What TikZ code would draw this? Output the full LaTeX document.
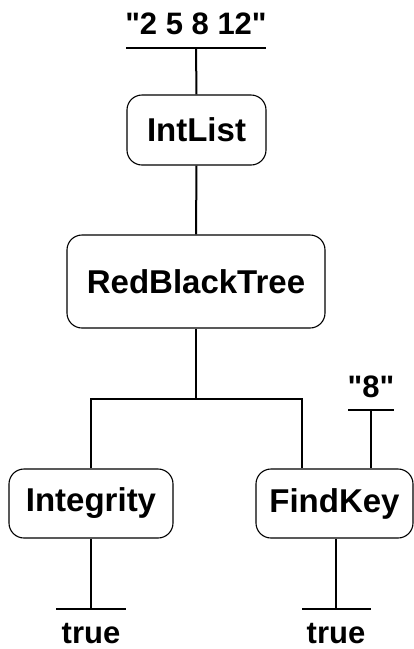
\documentclass[tikz,border=0pt]{standalone}
\usepackage{fontspec}
\setmainfont{Liberation Sans}
\newfontfamily\valfont{Liberation Sans}
\tikzset{
  compnode/.style = {shape=rectangle, rounded corners=15pt,
                     draw, line width=1.1pt, align=center, inner sep=0pt,
                     font=\bfseries\fontsize{33}{38}\selectfont},
  valnode/.style  = {inner sep=0pt, anchor=base,
                     font=\valfont\bfseries\fontsize{31}{36}\selectfont},
  wire/.style     = {draw, line width=2pt}
}
\begin{document}
\begin{tikzpicture}
  [
  x = 1pt, y = -1pt
  ]
  \useasboundingbox (0,0) rectangle (414,649);

  % components
  \node[compnode, minimum width=139pt, minimum height=70pt] (intlist) at (196.5,130) {IntList};
  \node[compnode, minimum width=258pt, minimum height=93pt] (rbtree) at (196,281.5) {RedBlackTree};
  \node[compnode, minimum width=164pt, minimum height=69pt] (integrity) at (91,503.5) {Integrity};
  \node[compnode, minimum width=157pt, minimum height=69pt] (findkey) at (334.5,503.5) {FindKey};

  % inputs and outputs
  \node[valnode] (inlist) at (196,34) {"2 5 8 12"};
  \node[valnode] (inkey) at (371,397) {"8"};
  \node[valnode] (outint) at (91,643) {true};
  \node[valnode] (outkey) at (336,643) {true};

  \coordinate (inlistbar) at (196,48);
  \coordinate (inkeybar) at (371,410);
  \coordinate (outintbar) at (91,609);
  \coordinate (outkeybar) at (336,609);
  \coordinate (fork) at (196,399);

  % bars
  \draw[wire] ([xshift=-70pt]inlistbar) -- ([xshift=70pt]inlistbar);
  \draw[wire] ([xshift=-23pt]inkeybar) -- ([xshift=23pt]inkeybar);
  \draw[wire] ([xshift=-35pt]outintbar) -- ([xshift=35pt]outintbar);
  \draw[wire] ([xshift=-34pt]outkeybar) -- ([xshift=35pt]outkeybar);

  % connectors
  \draw[wire] (inlistbar) -- (intlist.north);
  \draw[wire] (intlist.south) -- (rbtree.north);
  \draw[wire] (rbtree.south) -- (fork);
  \draw[wire] (integrity.north) |- (fork) -| ([xshift=-32.5pt]findkey.north);
  \draw[wire] (inkeybar) -- (inkeybar |- findkey.north);
  \draw[wire] (integrity.south) -- (outintbar);
  \draw[wire] (outkeybar |- findkey.south) -- (outkeybar);
\end{tikzpicture}
\end{document}
